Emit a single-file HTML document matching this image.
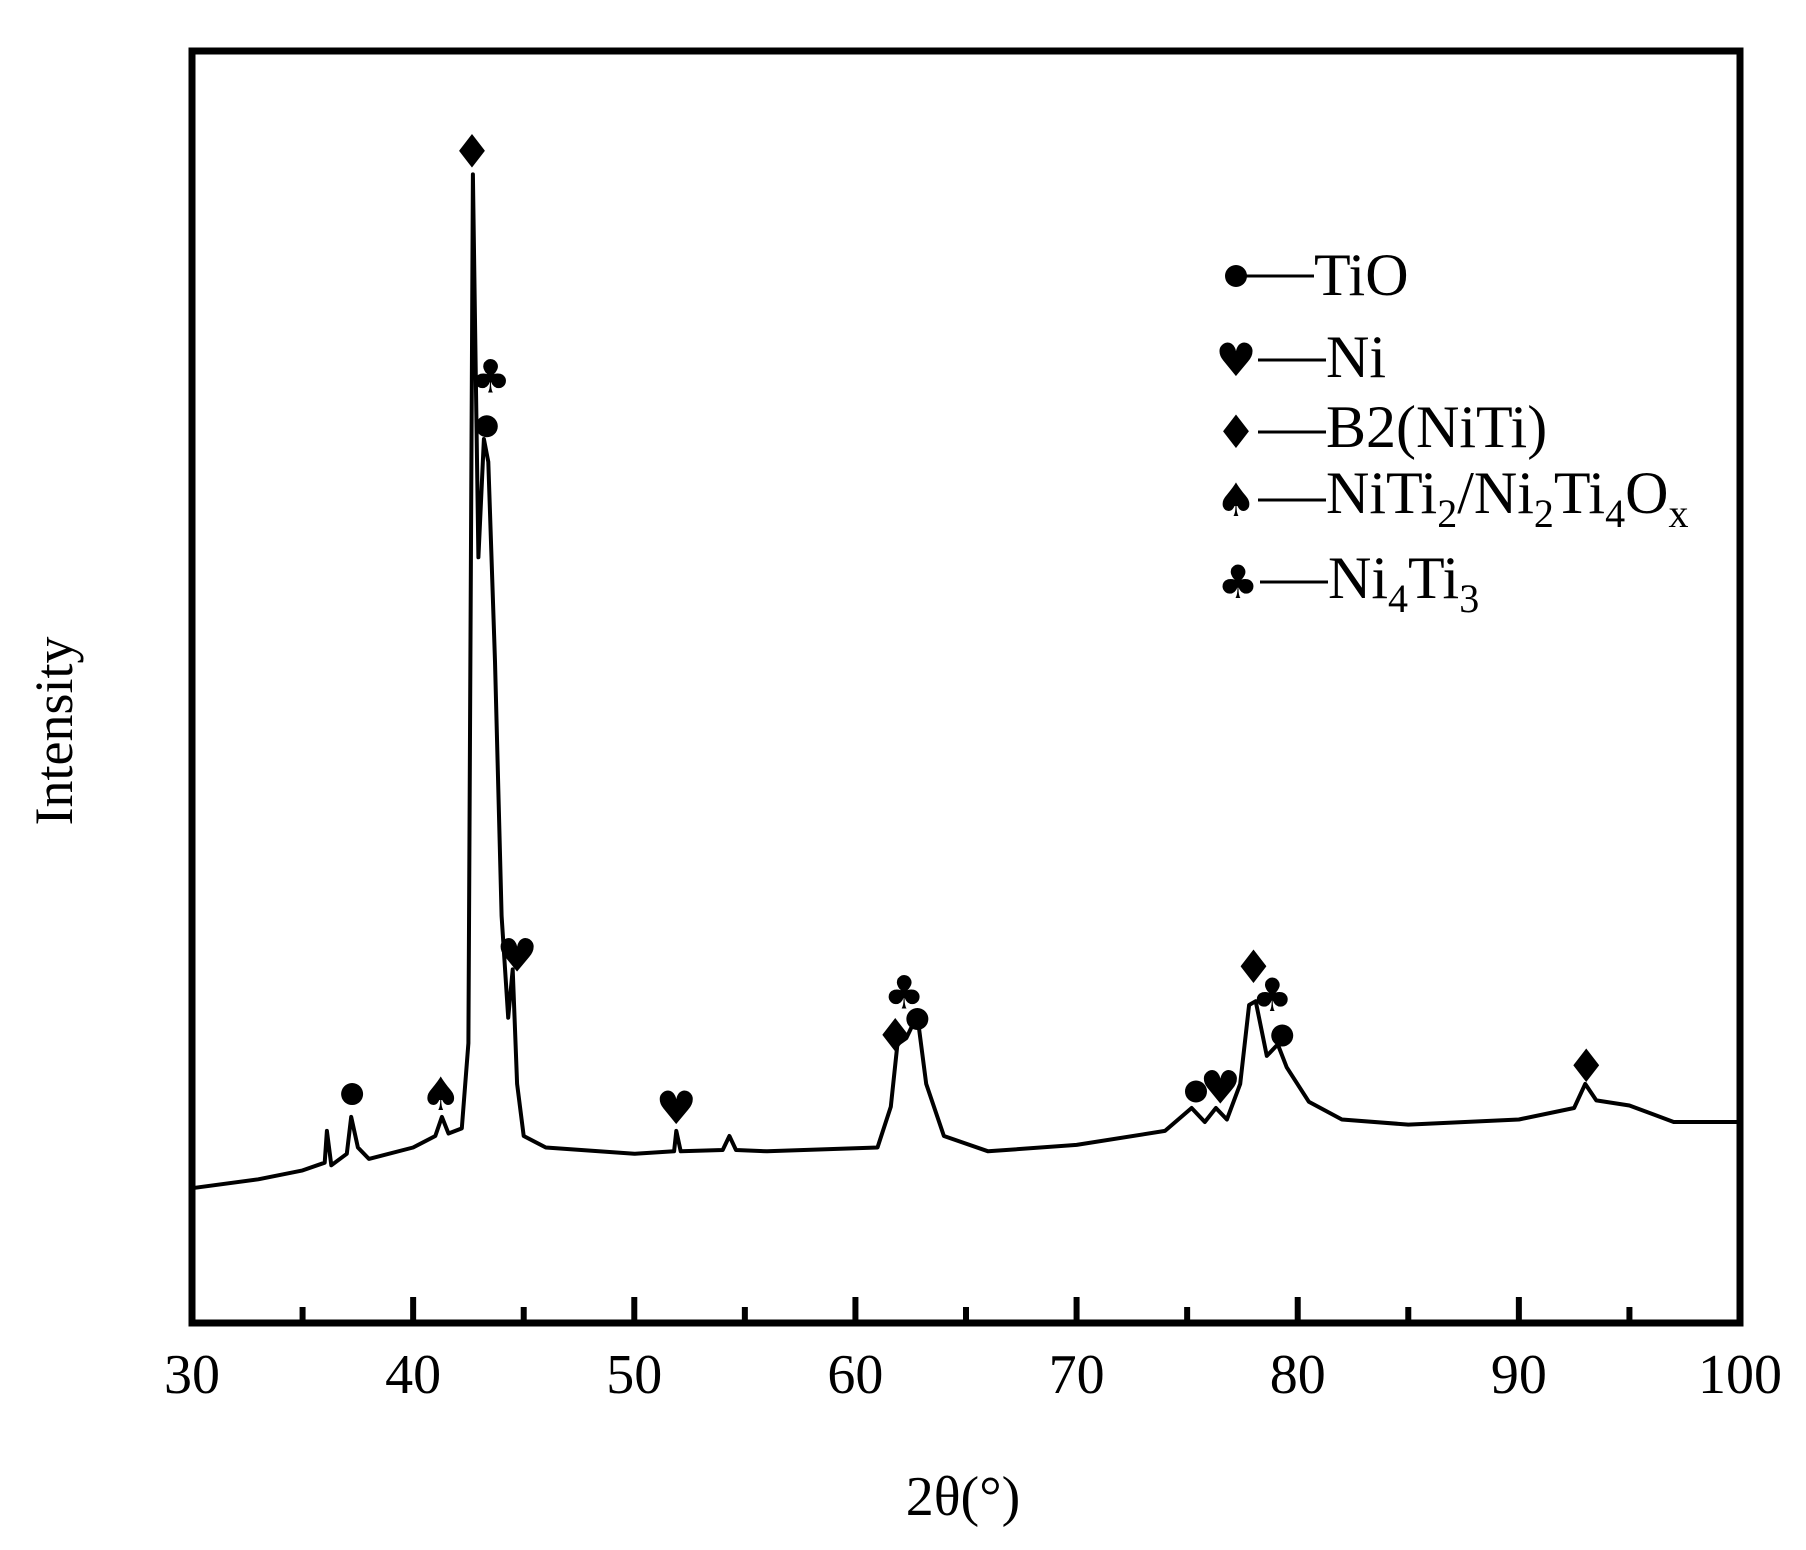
<!DOCTYPE html>
<html><head><meta charset="utf-8"><style>
html,body{margin:0;padding:0;background:#fff;}
svg{display:block;}
text{font-family:"Liberation Serif",serif;fill:#000;}
.suit{font-family:"DejaVu Sans",sans-serif;}
</style></head><body>
<svg id="chart" width="1806" height="1550" viewBox="0 0 1806 1550">
<g id="plot"></g>
<text x="963" y="1515" font-size="56" text-anchor="middle">2θ(°)</text>
<text transform="translate(72,731) rotate(-90)" font-size="54" text-anchor="middle">Intensity</text>
<g>
  <g>
    <circle cx="1236" cy="276" r="11"/>
    <line x1="1245" y1="276" x2="1314" y2="276" stroke="#000" stroke-width="3"/>
    <text x="1314" y="295" font-size="60">TiO</text>
  </g>
  <g>
    <text class="suit" x="1236" y="376" font-size="46" text-anchor="middle">♥</text>
    <line x1="1258" y1="360" x2="1326" y2="360" stroke="#000" stroke-width="3"/>
    <text x="1326" y="377" font-size="60">Ni</text>
  </g>
  <g>
    <text class="suit" x="1236" y="448" font-size="46" text-anchor="middle">♦</text>
    <line x1="1258" y1="432" x2="1326" y2="432" stroke="#000" stroke-width="3"/>
    <text x="1326" y="447" font-size="60">B2(NiTi)</text>
  </g>
  <g>
    <text class="suit" x="1236" y="516" font-size="46" text-anchor="middle">♠</text>
    <line x1="1258" y1="500" x2="1326" y2="500" stroke="#000" stroke-width="3"/>
    <text x="1326" y="513" font-size="60">NiTi<tspan font-size="40" dy="14">2</tspan><tspan dy="-14">/Ni</tspan><tspan font-size="40" dy="14">2</tspan><tspan dy="-14">Ti</tspan><tspan font-size="40" dy="14">4</tspan><tspan dy="-14">O</tspan><tspan font-size="40" dy="14">x</tspan></text>
  </g>
  <g>
    <text class="suit" x="1238" y="598" font-size="46" text-anchor="middle">♣</text>
    <line x1="1260" y1="582" x2="1328" y2="582" stroke="#000" stroke-width="3"/>
    <text x="1328" y="598" font-size="60">Ni<tspan font-size="40" dy="14">4</tspan><tspan dy="-14">Ti</tspan><tspan font-size="40" dy="14">3</tspan></text>
  </g>
</g>
</svg>
<script>
const angles=[30,33,35,36,36.1,36.3,37,37.2,37.5,38,40,41,41.3,41.6,42.2,42.5,42.7,42.95,43.2,43.4,43.7,44.0,44.3,44.5,44.7,45,46,50,51.8,51.9,52.1,54,54.3,54.6,56,61,61.6,61.9,62.3,62.8,63.2,64,66,70,74,75.2,75.8,76.3,76.8,77.4,77.8,78.1,78.6,79.1,79.5,80.5,82,85,90,92.5,93,93.5,95,97,100];
const intensity=[10.6,11.3,12,12.6,15.1,12.4,13.3,16.2,13.8,12.9,13.8,14.7,16.2,14.9,15.3,22,90.3,60.2,69.5,67.7,52,32,24,27.8,18.8,14.7,13.8,13.3,13.5,15.1,13.5,13.6,14.7,13.6,13.5,13.8,17,21.9,22.4,24.2,18.8,14.7,13.5,14,15.1,16.9,15.8,16.9,16,18.8,25,25.3,21,21.9,20.1,17.4,16,15.6,16,16.9,18.8,17.5,17.1,15.8,15.8];
const markerAngles=[42.66,43.5,43.33,44.7,37.24,41.25,51.9,62.2,61.8,62.8,75.4,76.5,78,78.85,79.3,93.05];
const markerIntensity=[92.1,74.4,70.5,28.9,18,18,16.9,26,22.6,23.9,18.2,18.5,28,25.8,22.6,20.2];
const markerSymbols=["♦","♣","●","♥","●","♠","♥","♣","♦","●","●","♥","♦","♣","●","♦"];
const xTickLabels=[30,40,50,60,70,80,90,100];
const NS="http://www.w3.org/2000/svg";
const L=192,R=1740,T=51,B=1323;
const xs=v=>L+(v-30)/70*(R-L);
const ys=v=>B-v/100*(B-T);
const g=document.getElementById('plot');
function mk(t,a){const e=document.createElementNS(NS,t);for(const k in a)e.setAttribute(k,a[k]);return e;}
let d=angles.map((a,i)=>(i?'L':'M')+xs(a).toFixed(1)+','+ys(intensity[i]).toFixed(1)).join(' ');
const p=mk('path',{d:d,fill:'none',stroke:'#000','stroke-width':4,'stroke-linejoin':'round'});


g.appendChild(p);
markerAngles.forEach((a,i)=>{
  const s=markerSymbols[i];
  let el;
  if(s==='●'){el=mk('circle',{cx:xs(a),cy:ys(markerIntensity[i]),r:11});}
  else{el=mk('text',{x:xs(a),y:ys(markerIntensity[i])+16,'font-size':46,'text-anchor':'middle','class':'suit'});el.textContent=s;}
  
  
  g.appendChild(el);
});
for(let v=35;v<100;v+=5){
  const major=v%10===0;
  const t=mk('line',{x1:xs(v),x2:xs(v),y1:B,y2:B-(major?26:16),stroke:'#000','stroke-width':6});
  
  
  g.appendChild(t);
}
xTickLabels.forEach(v=>{
  const t=mk('text',{x:xs(v),y:1393,'font-size':56,'text-anchor':'middle'});
  t.textContent=v;
  
  
  g.appendChild(t);
});
const fr=mk('rect',{x:L,y:T,width:R-L,height:B-T,fill:'none',stroke:'#000','stroke-width':7});


g.appendChild(fr);
</script>
</body></html>
